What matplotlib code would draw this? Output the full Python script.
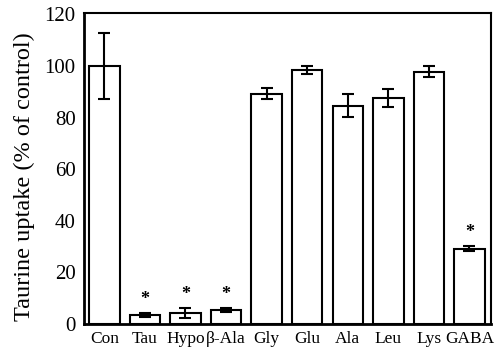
import numpy as np
import matplotlib.pyplot as plt

plt.rcParams['font.family'] = ['Liberation Serif', 'DejaVu Serif']

# values
labels = ["Con", "Tau", "Hypo", "β-Ala", "Gly", "Glu", "Ala", "Leu", "Lys", "GABA"]
means = [100, 3.5, 4.2, 5.4, 89.3, 98.3, 84.6, 87.6, 97.8, 29.2]
errs = [12.8, 0.7, 2.0, 0.6, 2.0, 1.5, 4.4, 3.6, 2.0, 1.0]
signif = [False, True, True, True, False, False, False, False, False, True]

x = np.arange(len(labels))

fig = plt.figure(figsize=(5.0, 3.51), dpi=100)
ax = fig.add_axes([0.168, 0.077, 0.814, 0.886])

ax.bar(x, means, 0.75, color="white", edgecolor="black", linewidth=1.5,
       yerr=errs, capsize=4, error_kw=dict(elinewidth=1.5, capthick=1.5, ecolor="black"))

# asterisks for significant differences
for xi, m, e, s in zip(x, means, errs, signif):
    if s:
        ax.text(xi, m + e + 2.0, "*", ha="center", va="bottom", fontsize=13, fontweight="bold")

ax.set_xlim(-0.5, 9.53)
ax.set_ylim(0, 120.5)
ax.set_yticks(np.arange(0, 121, 20))
ax.set_xticks(x)
ax.set_xticklabels(labels, fontsize=12.5)
ax.tick_params(axis="y", labelsize=15, length=0, pad=6)
ax.tick_params(axis="x", length=0, pad=5)
ax.set_ylabel("Taurine uptake (% of control)", fontsize=17.5)
ax.yaxis.set_label_coords(-0.12, 0.475)

for side in ["left", "bottom"]:
    ax.spines[side].set_linewidth(2)
for side in ["top", "right"]:
    ax.spines[side].set_linewidth(1.5)

fig.savefig("out.png", dpi=100)
